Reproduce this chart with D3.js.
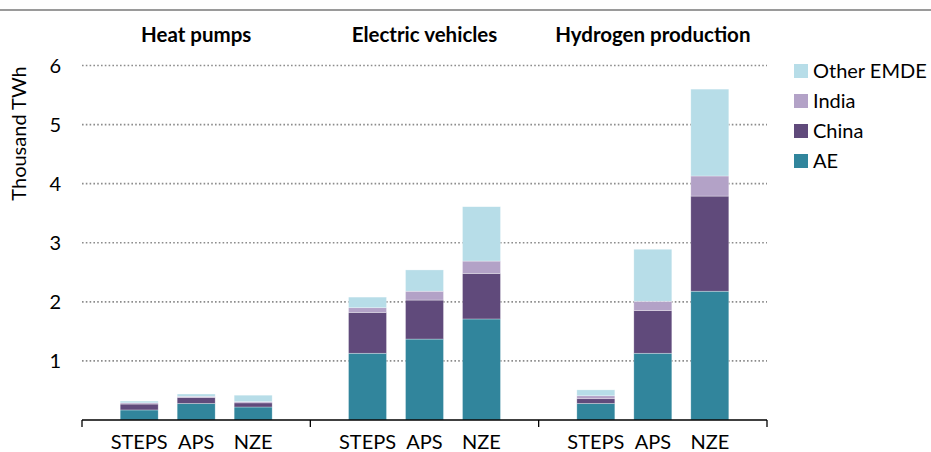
<!DOCTYPE html>
<html>
<head>
<meta charset="utf-8">
<script src="https://cdn.jsdelivr.net/npm/d3@7"></script>
<style>
  body { margin: 0; background: #fff; }
  svg text { font-family: Lato, "Open Sans", sans-serif; fill: #000; }
</style>
</head>
<body>
<svg id="chart" width="931" height="452"></svg>
<script>
// groups and scenarios
var groups = ["Heat pumps", "Electric vehicles", "Hydrogen production"];
var scenarios = ["STEPS", "APS", "NZE"];
var regions = ["AE", "China", "India", "Other EMDE"];
var yTicks = [1, 2, 3, 4, 5, 6];

// thousand TWh, order: heat pumps STEPS/APS/NZE, EVs STEPS/APS/NZE, hydrogen STEPS/APS/NZE
var ae        = [0.17, 0.28, 0.22, 1.13, 1.37, 1.71, 0.28, 1.13, 2.18];
var china     = [0.10, 0.10, 0.07, 0.69, 0.66, 0.77, 0.08, 0.72, 1.61];
var india     = [0.02, 0.02, 0.02, 0.08, 0.15, 0.21, 0.05, 0.16, 0.34];
var otherEmde = [0.03, 0.04, 0.11, 0.18, 0.36, 0.92, 0.10, 0.88, 1.47];

var colors = {
  "AE": "#31859c",
  "China": "#604a7b",
  "India": "#b3a2c7",
  "Other EMDE": "#b7dde8"
};

(function() {
var rows = [];
groups.forEach(function(g, gi) {
  scenarios.forEach(function(s, si) {
    var i = gi * 3 + si;
    rows.push({group: g, scenario: s,
      "AE": ae[i], "China": china[i], "India": india[i], "Other EMDE": otherEmde[i]});
  });
});

var svg = d3.select("#chart"),
    plotLeft = 82, plotRight = 767, plotTop = 65.5, plotBottom = 420,
    fontSize = "20px";

// thin grey rule on top
svg.append("line")
    .attr("x1", 0).attr("x2", 931)
    .attr("y1", 10).attr("y2", 10)
    .attr("stroke", "#9a9a9a")
    .attr("stroke-width", 2);

var x0 = d3.scaleBand()
    .domain(groups)
    .range([plotLeft, plotRight]);

var x1 = d3.scaleBand()
    .domain(scenarios)
    .range([0, x0.bandwidth()])
    .paddingInner(1 / 3)
    .paddingOuter(0.67);

var y = d3.scaleLinear()
    .domain([0, 6])
    .range([plotBottom, plotTop]);

// dotted gridlines
svg.append("g")
  .selectAll("line")
  .data(yTicks)
  .join("line")
    .attr("x1", plotLeft).attr("x2", plotRight)
    .attr("y1", function(d) { return y(d); })
    .attr("y2", function(d) { return y(d); })
    .attr("stroke", "#8c8c8c")
    .attr("stroke-width", 1.6)
    .attr("stroke-dasharray", "1.6,2.2");

// y tick labels
svg.append("g")
  .selectAll("text")
  .data(yTicks)
  .join("text")
    .attr("x", 61)
    .attr("y", function(d) { return y(d); })
    .attr("dy", "0.35em")
    .attr("text-anchor", "end")
    .style("font-size", fontSize)
    .text(function(d) { return d; });

svg.append("text")
    .attr("transform", "translate(26,133.5) rotate(-90)")
    .attr("text-anchor", "middle")
    .style("font-size", fontSize)
    .text("Thousand TWh");

// stacked bars
var series = d3.stack().keys(regions)(rows);

svg.append("g")
  .selectAll("g")
  .data(series)
  .join("g")
    .attr("fill", function(d) { return colors[d.key]; })
  .selectAll("rect")
  .data(function(d) { return d; })
  .join("rect")
    .attr("x", function(d) { return x0(d.data.group) + x1(d.data.scenario); })
    .attr("width", x1.bandwidth())
    .attr("y", function(d) { return y(d[1]); })
    .attr("height", function(d) { return y(d[0]) - y(d[1]); })
    .attr("stroke", "#fff")
    .attr("stroke-opacity", 0.5)
    .attr("stroke-width", 0.6);

// category axis
var axis = svg.append("g");
axis.append("line")
    .attr("x1", plotLeft).attr("x2", plotRight)
    .attr("y1", plotBottom).attr("y2", plotBottom)
    .attr("stroke", "#000")
    .attr("stroke-width", 1.3);

var dividers = groups.map(function(g) { return x0(g); }).concat([plotRight]);
axis.selectAll("line.tick")
  .data(dividers)
  .join("line")
    .attr("class", "tick")
    .attr("x1", function(d) { return d; })
    .attr("x2", function(d) { return d; })
    .attr("y1", plotBottom).attr("y2", plotBottom + 7)
    .attr("stroke", "#000")
    .attr("stroke-width", 1.3);

axis.selectAll("text")
  .data(rows)
  .join("text")
    .attr("x", function(d) { return x0(d.group) + x1(d.scenario) + x1.bandwidth() / 2; })
    .attr("y", 449)
    .attr("text-anchor", "middle")
    .style("font-size", fontSize)
    .text(function(d) { return d.scenario; });

// group titles
svg.append("g")
  .selectAll("text")
  .data(groups)
  .join("text")
    .attr("x", function(d) { return x0(d) + x0.bandwidth() / 2; })
    .attr("y", 35)
    .attr("dy", "0.35em")
    .attr("text-anchor", "middle")
    .style("font-size", "20.5px")
    .style("font-weight", "bold")
    .text(function(d) { return d; });

// legend
var legend = svg.append("g")
  .selectAll("g")
  .data(regions.slice().reverse())
  .join("g")
    .attr("transform", function(d, i) { return "translate(794," + (71 + i * 30) + ")"; });

legend.append("rect")
    .attr("x", 0).attr("y", -7)
    .attr("width", 14).attr("height", 14)
    .attr("fill", function(d) { return colors[d]; });

legend.append("text")
    .attr("x", 19)
    .attr("dy", "0.35em")
    .style("font-size", fontSize)
    .text(function(d) { return d; });
})();
</script>
</body>
</html>
